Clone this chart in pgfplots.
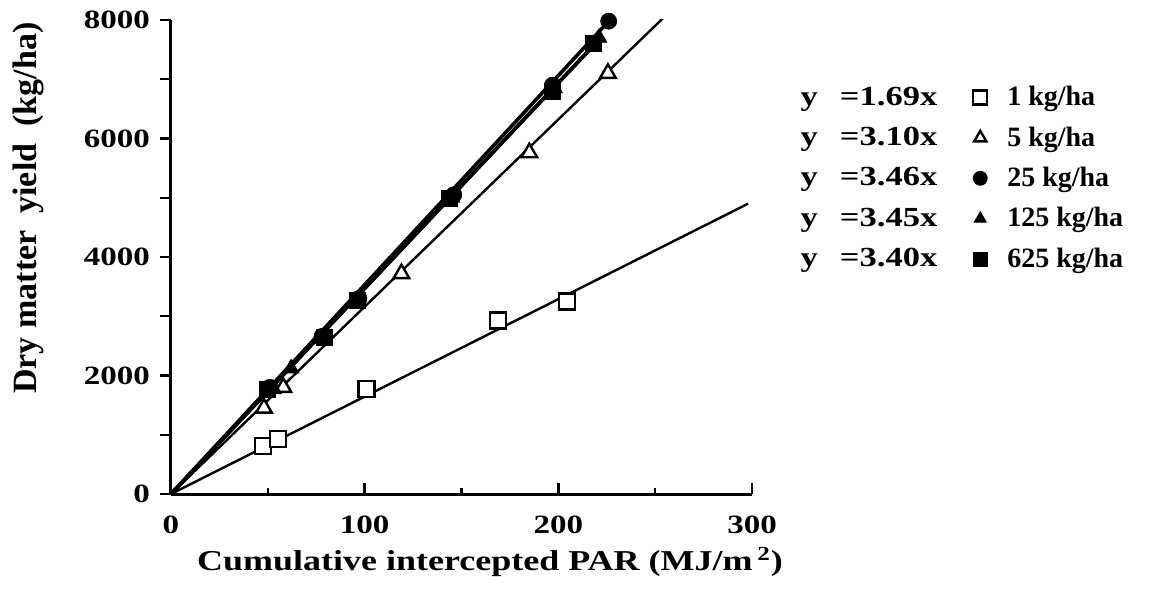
\documentclass[border=0pt]{standalone}
\usepackage{fontspec}
\setmainfont{Liberation Serif}[FakeStretch=1.25]
\newfontfamily\plainfont{Liberation Serif}
\usepackage{pgfplots}
\pgfplotsset{compat=1.18}
\newcommand{\lab}[1]{{\plainfont\fontsize{14}{15}\selectfont\bfseries #1}}
\begin{document}
\begin{tikzpicture}
\useasboundingbox (-85.5pt,-49.5pt) rectangle (494.5pt,247pt);
\begin{axis}[
  scale only axis, width=290.5pt, height=237pt,
  xmin=0, xmax=300, ymin=0, ymax=8000,
  axis x line*=bottom, axis y line*=left,
  axis line style={line width=1.5pt, -},
  xtick={0,100,200,300}, minor xtick={50,150,250},
  ytick={0,1000,...,8000},
  yticklabels={0,,2000,,4000,,6000,,8000},
  tick align=inside,
  major tick length=5.5pt, minor tick length=3pt,
  tick style={line width=1.2pt, black},
  every y tick/.append style={xshift=-5.5pt},
  /pgf/number format/assume math mode=true,
  every tick label/.append style={font=\fontsize{13.2}{15}\selectfont\bfseries},
  yticklabel style={xshift=-7pt},
  xticklabel style={yshift=-7.5pt},
  xlabel={Cumulative intercepted PAR (MJ/m\,\textsuperscript{2})},
  xlabel style={at={(axis description cs:0.549,0)}, anchor=north, yshift=-23pt, font=\fontsize{14.4}{16}\selectfont\bfseries},
  ylabel={Dry matter\ \ yield\ \ (kg/ha)},
  ylabel style={at={(axis description cs:-0.246,0.603)}, anchor=center, font=\plainfont\fontsize{17}{19}\selectfont\bfseries},
  legend columns=2,
  legend cell align=left,
  legend style={draw=none, fill=none, at={(axis description cs:1.066,0.878)}, anchor=north west,
    font=\fontsize{13.8}{15}\selectfont\bfseries, row sep=5pt, column sep=0pt,
    /tikz/column 2/.style={column sep=16pt},
    /tikz/column 3/.style={column sep=8pt}},
  legend image post style={mark size=3.5pt},
]
% regression lines
\addplot[black, line width=1.2pt, forget plot] coordinates {(0,0) (298,4900)};
\addplot[black, line width=1.2pt, forget plot] coordinates {(0,0) (255,8060)};
\addplot[black, line width=1.8pt, forget plot] coordinates {(0,0) (226,7980)};
\addplot[black, line width=1.8pt, forget plot] coordinates {(0,0) (222,7700)};
\addplot[black, line width=1.8pt, forget plot] coordinates {(0,0) (219,7600)};
% data
\addlegendimage{empty legend}
\addlegendentry{y\hspace{11pt}=1.69x}
\addplot[only marks, mark=square*, mark size=4pt, mark options={fill=white, draw=black, line width=1.2pt}]
  coordinates {(47.5,810) (55.2,930) (101,1770) (169,2930) (204.5,3250)};
\addlegendentry{\lab{1 kg/ha}}
\addlegendimage{empty legend}
\addlegendentry{y\hspace{11pt}=3.10x}
\addplot[only marks, mark=triangle*, mark size=4.5pt, mark options={fill=white, draw=black, line width=1.2pt}]
  coordinates {(48,1450) (58,1800) (119,3720) (185,5760) (225.6,7100)};
\addlegendentry{\lab{5 kg/ha}}
\addlegendimage{empty legend}
\addlegendentry{y\hspace{11pt}=3.46x}
\addplot[only marks, mark=*, mark size=4pt, mark options={fill=black, draw=black}]
  coordinates {(51,1800) (78,2660) (97,3300) (146,5050) (197,6900) (226,7980)};
\addlegendentry{\lab{25 kg/ha}}
\addlegendimage{empty legend}
\addlegendentry{y\hspace{11pt}=3.45x}
\addplot[only marks, mark=triangle*, mark size=4.5pt, mark options={fill=black, draw=black}]
  coordinates {(53,1770) (62,2120) (77,2620) (94,3220) (145,5000) (198,6850) (221,7700)};
\addlegendentry{\lab{125 kg/ha}}
\addlegendimage{empty legend}
\addlegendentry{y\hspace{11pt}=3.40x}
\addplot[only marks, mark=square*, mark size=4pt, mark options={fill=black, draw=black}]
  coordinates {(50,1760) (79,2650) (96,3270) (144,4990) (197,6800) (218,7600)};
\addlegendentry{\lab{625 kg/ha}}
\end{axis}
\end{tikzpicture}
\end{document}
